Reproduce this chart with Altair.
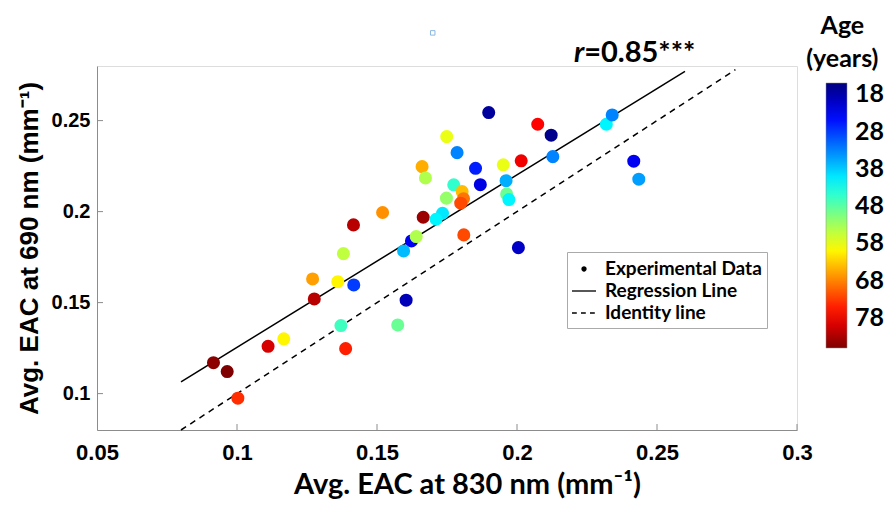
import altair as alt
import pandas as pd

# Avg. EAC readings (mm^-1) and age of each subject
x830 = [0.1899, 0.2074, 0.2122, 0.1749, 0.1786, 0.2128, 0.1661, 0.1852,
        0.1951, 0.2015, 0.1673, 0.1774, 0.1869, 0.1961, 0.1804, 0.1748,
        0.1809, 0.1799, 0.1963, 0.1971, 0.1665, 0.1734, 0.1711, 0.1623,
        0.1640, 0.1595, 0.1810, 0.2005, 0.1520, 0.1416, 0.1380, 0.1270,
        0.1360, 0.1417, 0.1276, 0.1604, 0.1371, 0.1574, 0.1111, 0.1167,
        0.1388, 0.0916, 0.0965, 0.1003, 0.2319, 0.2340, 0.2417, 0.2435]
y690 = [0.2544, 0.2480, 0.2420, 0.2412, 0.2324, 0.2302, 0.2247, 0.2238,
        0.2257, 0.2279, 0.2185, 0.2147, 0.2148, 0.2170, 0.2110, 0.2074,
        0.2071, 0.2046, 0.2097, 0.2066, 0.1969, 0.1991, 0.1958, 0.1839,
        0.1863, 0.1784, 0.1872, 0.1802, 0.1995, 0.1927, 0.1769, 0.1630,
        0.1615, 0.1597, 0.1520, 0.1513, 0.1374, 0.1377, 0.1260, 0.1301,
        0.1247, 0.1170, 0.1121, 0.0975, 0.2480, 0.2531, 0.2277, 0.2178]
age = [17, 77, 16, 58, 33, 33, 65, 26,
       58, 78, 54, 45, 22, 36, 64, 52,
       69, 72, 49, 41, 84, 40, 41, 23,
       54, 37, 72, 20, 67, 82, 55, 66,
       60, 28, 82, 19, 46, 49, 80, 60,
       75, 85, 86, 74, 41, 33, 23, 35]

reg_x = [0.08, 0.26]
reg_y = [0.1064, 0.2771]
ident_x = [0.08, 0.278]
ident_y = [0.08, 0.278]

x_ticks = [0.05, 0.1, 0.15, 0.2, 0.25, 0.3]
y_ticks = [0.1, 0.15, 0.2, 0.25]
age_ticks = [18, 28, 38, 48, 58, 68, 78]

legend_items = ["Experimental Data", "Regression Line", "Identity line"]
# legend glyphs as filled paths: dot, solid bar, dashed bar
legend_paths = [
    "M-0.22,0A0.22,0.22 0 1,0 0.22,0A0.22,0.22 0 1,0 -0.22,0Z",
    "M-1,-0.055L1,-0.055L1,0.055L-1,0.055Z",
    "M-1,-0.055L-0.6,-0.055L-0.6,0.055L-1,0.055Z"
    "M-0.25,-0.055L0.15,-0.055L0.15,0.055L-0.25,0.055Z"
    "M0.5,-0.055L0.9,-0.055L0.9,0.055L0.5,0.055Z",
]

ann_x = [0.2240]
ann_y = [0.2823]
ann_r = ["r"]
ann_val = ["=0.85***"]

# colour bar heading, placed above the bar
head_x = [0.3162, 0.3162]
head_y = [0.3087, 0.2904]
head_txt = ["Age", "(years)"]

# stray marker above the plot in the original figure
mark_x = [0.1699]
mark_y = [0.2982]

jet = ["#00007f", "#0000ff", "#007fff", "#00ffff", "#7fff7f",
       "#ffff00", "#ff7f00", "#ff0000", "#7f0000"]

W, H = 700, 364

points = pd.DataFrame({"x": x830, "y": y690, "age": age})
reg = pd.DataFrame({"x": reg_x, "y": reg_y})
ident = pd.DataFrame({"x": ident_x, "y": ident_y})
xt = pd.DataFrame({"x": x_ticks[1:]})
yt = pd.DataFrame({"y": y_ticks})
leg = pd.DataFrame({"item": legend_items})
ann = pd.DataFrame({"x": ann_x, "y": ann_y, "r": ann_r, "val": ann_val})
head = pd.DataFrame({"x": head_x, "y": head_y, "t": head_txt})
stray = pd.DataFrame({"x": mark_x, "y": mark_y})

x_axis = alt.Axis(values=x_ticks, format="~g", grid=False, ticks=False, tickSize=0,
                  title="Avg. EAC at 830 nm (mm⁻¹)", titleX=370,
                  titleFont="Lato", titleFontSize=29, titleFontWeight="bold",
                  titleColor="black", titlePadding=7,
                  labelFont="Liberation Sans", labelFontSize=22,
                  labelFontWeight="bold", labelColor="black", labelPadding=12,
                  labelFlush=False, labelOverlap=False,
                  domainColor="#8c8c8c", domainWidth=1)
y_axis = alt.Axis(values=y_ticks, format="~g", grid=False, ticks=False, tickSize=0,
                  title="Avg. EAC at 690 nm (mm⁻¹)",
                  titleFont="Liberation Sans", titleFontSize=26,
                  titleFontWeight="bold", titleColor="black", titlePadding=9,
                  labelFont="Liberation Sans", labelFontSize=20,
                  labelFontWeight="bold", labelColor="black", labelPadding=7,
                  labelFlush=False, labelOverlap=False,
                  domainColor="#8c8c8c", domainWidth=1)

xs = alt.Scale(domain=[0.05, 0.3], nice=False, zero=False)
ys = alt.Scale(domain=[0.08, 0.28], nice=False, zero=False)
X = alt.X("x:Q", scale=xs, axis=x_axis)
Y = alt.Y("y:Q", scale=ys, axis=y_axis)

dots = alt.Chart(points).mark_circle(size=170, opacity=1).encode(
    x=X, y=Y,
    color=alt.Color("age:Q",
                    scale=alt.Scale(domain=[86, 15], range=jet[::-1], interpolate="rgb"),
                    legend=alt.Legend(
                        title=None, orient="none", legendX=729, legendY=17,
                        direction="vertical", padding=0,
                        gradientLength=265, gradientThickness=21,
                        gradientStrokeColor="#888888", gradientStrokeWidth=0.5,
                        values=age_ticks, labelOverlap=False,
                        labelFont="Lato", labelFontSize=25, labelFontWeight="bold",
                        labelColor="black", labelOffset=8)),
)

reg_line = alt.Chart(reg).mark_line(color="black", strokeWidth=1.5).encode(x=X, y=Y)
ident_line = alt.Chart(ident).mark_line(color="black", strokeWidth=1.5,
                                        strokeDash=[6, 5]).encode(x=X, y=Y)

x_tick_marks = alt.Chart(xt).mark_rule(color="#8c8c8c").encode(
    x=X, y=alt.value(H), y2=alt.value(H - 6))
y_tick_marks = alt.Chart(yt).mark_rule(color="#8c8c8c").encode(
    y=Y, x=alt.value(0), x2=alt.value(6))

key = alt.Chart(leg).mark_point(filled=True, fill="black", stroke="black",
                                strokeWidth=1).encode(
    shape=alt.Shape("item:N",
                    scale=alt.Scale(domain=legend_items, range=legend_paths),
                    legend=alt.Legend(
                        title=None, orient="none", legendX=470, legendY=186,
                        symbolSize=576, symbolStrokeWidth=0, symbolOpacity=1,
                        symbolFillColor="black", symbolStrokeColor="black",
                        labelFont="Lato", labelFontSize=19, labelFontWeight="bold",
                        labelColor="black", labelOffset=9, labelLimit=300,
                        rowPadding=0, padding=5,
                        strokeColor="#aaaaaa", fillColor="white")),
).transform_filter("false")

r_text = alt.Chart(ann).mark_text(font="Lato", fontSize=29, fontWeight="bold",
                                  fontStyle="italic", align="right",
                                  baseline="alphabetic", color="black").encode(
    x=X, y=Y, text="r:N")
val_text = alt.Chart(ann).mark_text(font="Lato", fontSize=29, fontWeight="bold",
                                    align="left", baseline="alphabetic",
                                    color="black").encode(
    x=X, y=Y, text="val:N")
head_text = alt.Chart(head).mark_text(font="Lato", fontSize=25, fontWeight="bold",
                                      align="center", baseline="top",
                                      color="black").encode(
    x=X, y=Y, text="t:N")

stray_mark = alt.Chart(stray).mark_point(shape="square", filled=False, size=20,
                                         color="#5b9bd5", strokeWidth=1).encode(x=X, y=Y)

chart = alt.layer(
    x_tick_marks, y_tick_marks, reg_line, ident_line, dots, key,
    r_text, val_text, head_text, stray_mark
).properties(
    width=W, height=H,
    padding={"left": 8, "top": 5, "right": 0, "bottom": 0},
).configure_view(stroke=None).configure(background="white")

chart.save("out.html", embed_options={"renderer": "svg", "actions": False})
